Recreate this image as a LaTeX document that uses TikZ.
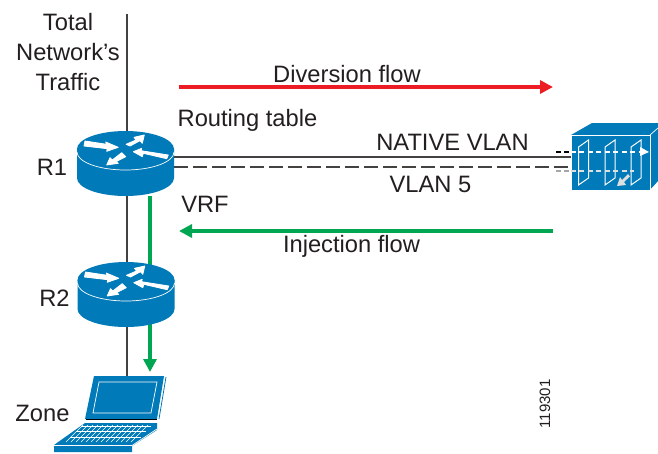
\documentclass[tikz,border=0pt]{standalone}
\usepackage{fontspec}
\setmainfont{Liberation Sans}
\usetikzlibrary{arrows.meta}
\definecolor{ciscoblue}{RGB}{0,122,184}
\definecolor{txt}{RGB}{35,31,32}
\definecolor{redflow}{RGB}{237,28,36}
\definecolor{greenflow}{RGB}{0,166,81}
\tikzset{
  x=1pt,y=-1pt,
  lbl/.style={font=\fontsize{23.7}{25}\selectfont,text=txt,inner sep=0pt},
  wire/.style={draw=txt!85,line width=1.3pt},
  flowred/.style={draw=redflow,line width=3.6pt,-{Triangle[length=13pt,width=13pt]}},
  flowgreen/.style={draw=greenflow,line width=3.6pt,-{Triangle[length=13pt,width=13pt]}},
  hole/.style={inner sep=0pt,minimum width=97pt,minimum height=65pt},
  arrowfill/.style={fill=white,draw=white,line width=.8pt,line join=round},
  routerpic/.pic={
    \fill[ciscoblue] (-48.5,-14.5) -- (-48.5,14.5) arc[start angle=180,end angle=0,x radius=48.5,y radius=18] -- (48.5,-14.5) -- cycle;
    \fill[ciscoblue] (0,-14.5) ellipse[x radius=48.5,y radius=18];
    \draw[white,line width=.7pt] (-48.5,-11.5) arc[start angle=180,end angle=0,x radius=48.5,y radius=18];
    \path[arrowfill] (-40.5,-22.5) -- (-18.8,-19.2) -- (-19.8,-21.5) -- (-7.2,-16.2) -- (-18.8,-12.2) -- (-18.2,-14.8) -- (-41.5,-17.5) -- cycle;
    \path[arrowfill] (0.5,-19.2) -- (10.5,-23.5) -- (8.5,-26.2) -- (18.8,-28.5) -- (16.8,-20.2) -- (14.5,-22.8) -- (4.5,-17.5) -- cycle;
    \path[arrowfill] (7.8,-11.8) -- (16.2,-15.2) -- (15.5,-12.8) -- (42.8,-8.5) -- (41.2,-4.8) -- (17.8,-10.2) -- (16.8,-6.8) -- cycle;
    \path[arrowfill] (-18.8,1.5) -- (-15.5,-5.8) -- (-13.2,-3.5) -- (-3.8,-10.8) -- (0.2,-6.8) -- (-9.5,-1.8) -- (-7.2,-0.2) -- cycle;
  }
}
\begin{document}
\begin{tikzpicture}
\useasboundingbox (0,0) rectangle (658,453);
\fill[white] (0,0) rectangle (658,453);
% anchors
\node[hole] (r1) at (125.5,163.5) {};
\node[hole] (r2) at (126,294.5) {};
\node[inner sep=0pt,minimum width=79pt,minimum height=55pt] (fw) at (610.5,162.5) {};
\node[inner sep=0pt,minimum width=72pt,minimum height=76pt] (pc) at (123,414) {};
\coordinate (top) at (127,14);
\coordinate (dl) at (179,87);
\coordinate (dr) at (553,87);
\coordinate (il) at (179,231);
\coordinate (ir) at (553,231);
% wires
\draw[wire] (top) -- (top |- r1.north);
\draw[wire] (r1.south -| top) -- (r2.north -| top);
\draw[wire] (r2.south -| top) -- (top |- pc.north);
\draw[wire] (r1.east |- 0,157) -- (fw.west |- 0,157);
\draw[wire,dash pattern=on 14pt off 5pt] (r1.east |- 0,167) -- (fw.west |- 0,167);
% flows
\coordinate (gtop) at (150,196);
\coordinate (gend) at (150,372);
\draw[flowgreen] (gtop) -- (gend);
\draw[flowred] (dl) -- (dr);
\draw[flowgreen] (ir) -- (il);
% routers
\pic at (r1.center) {routerpic};
\pic at (r2.center) {routerpic};
% firewall
\fill[ciscoblue] (571,135) -- (592,123) -- (658,123) -- (658,181) -- (650,190) -- (571,190) -- cycle;
\draw[white,line width=.7pt] (571,135) -- (650,135) -- (650,190) -- (571,190) -- cycle;
\draw[white,line width=.7pt] (650,135) -- (658,128);
\draw[white,line width=.7pt] (650,190) -- (658,184);
\foreach \px in {578.5,605,631}{
  \draw[white,line width=1pt] (\px,147) -- (\px+10,140) -- (\px+10,178) -- (\px,185) -- cycle;
}
\draw[white,line width=1.4pt,dash pattern=on 5pt off 3.5pt] (fw.west |- 0,152) -- (640,152);
\fill[white] (640,147) -- (649,152) -- (640,156) -- cycle;
\draw[white!75!gray,line width=1.4pt,dash pattern=on 5pt off 3.5pt] (fw.west |- 0,171) -- (634,171);
\fill[white!75!gray] (617,186) -- (620,177) -- (622,180) -- (628,174) -- (630,176.5) -- (624,182) -- (626,185) -- cycle;
\draw[black,line width=1.5pt,dash pattern=on 5pt off 3pt] (556,152) -- (fw.west |- 0,152);
\draw[gray!70,line width=1.5pt,dash pattern=on 5pt off 3pt] (556,171) -- (fw.west |- 0,171);
% laptop
\fill[ciscoblue] (94,376) -- (164,376) -- (157,419) -- (85,419) -- cycle;
\draw[ciscoblue,line width=.8pt] (166,377) -- (159,419);
\draw[white,line width=.7pt] (99,382) -- (157,382) -- (151,413) -- (93,413) -- cycle;
\draw[black,line width=1pt] (86,419.5) -- (157,419.5);
\fill[ciscoblue] (85,423) -- (157,423) -- (157,430) -- (132,446) -- (132,452) -- (54,452) -- (54,445) -- cycle;
\draw[white,line width=.7pt] (54,445.5) -- (132,445.5) -- (157,429);
\foreach \i in {0,1,2}{
  \draw[white,line width=.7pt] (81-\i*5.5,426+\i*5.5) -- (151-\i*5,426+\i*5.5);
}
\foreach \i in {0,...,13}{
  \draw[white,line width=.6pt] (83+\i*5,425) -- (66+\i*5,442);
}
% labels
\node[lbl] (l1) at (68,22) {Total};
\node[lbl] (l2) at (68,52) {Network’s};
\node[lbl] (l3) at (68,82) {Traffic};
\node[lbl] (l4) at (52,167) {R1};
\node[lbl] (l5) at (54.5,298) {R2};
\node[lbl] (l6) at (42.5,413) {Zone};
\node[lbl] (l7) at (347,74) {Diversion flow};
\node[lbl] (l8) at (247.5,120) {Routing table};
\node[lbl] (l9) at (452.5,142) {NATIVE VLAN};
\node[lbl] (l10) at (430.5,184) {VLAN 5};
\node[lbl] (l11) at (205,204) {VRF};
\node[lbl] (l12) at (351.5,246) {Injection flow};
\node[lbl,font=\fontsize{15}{16}\selectfont,rotate=90] (l13) at (545,404) {119301};
\end{tikzpicture}
\end{document}
